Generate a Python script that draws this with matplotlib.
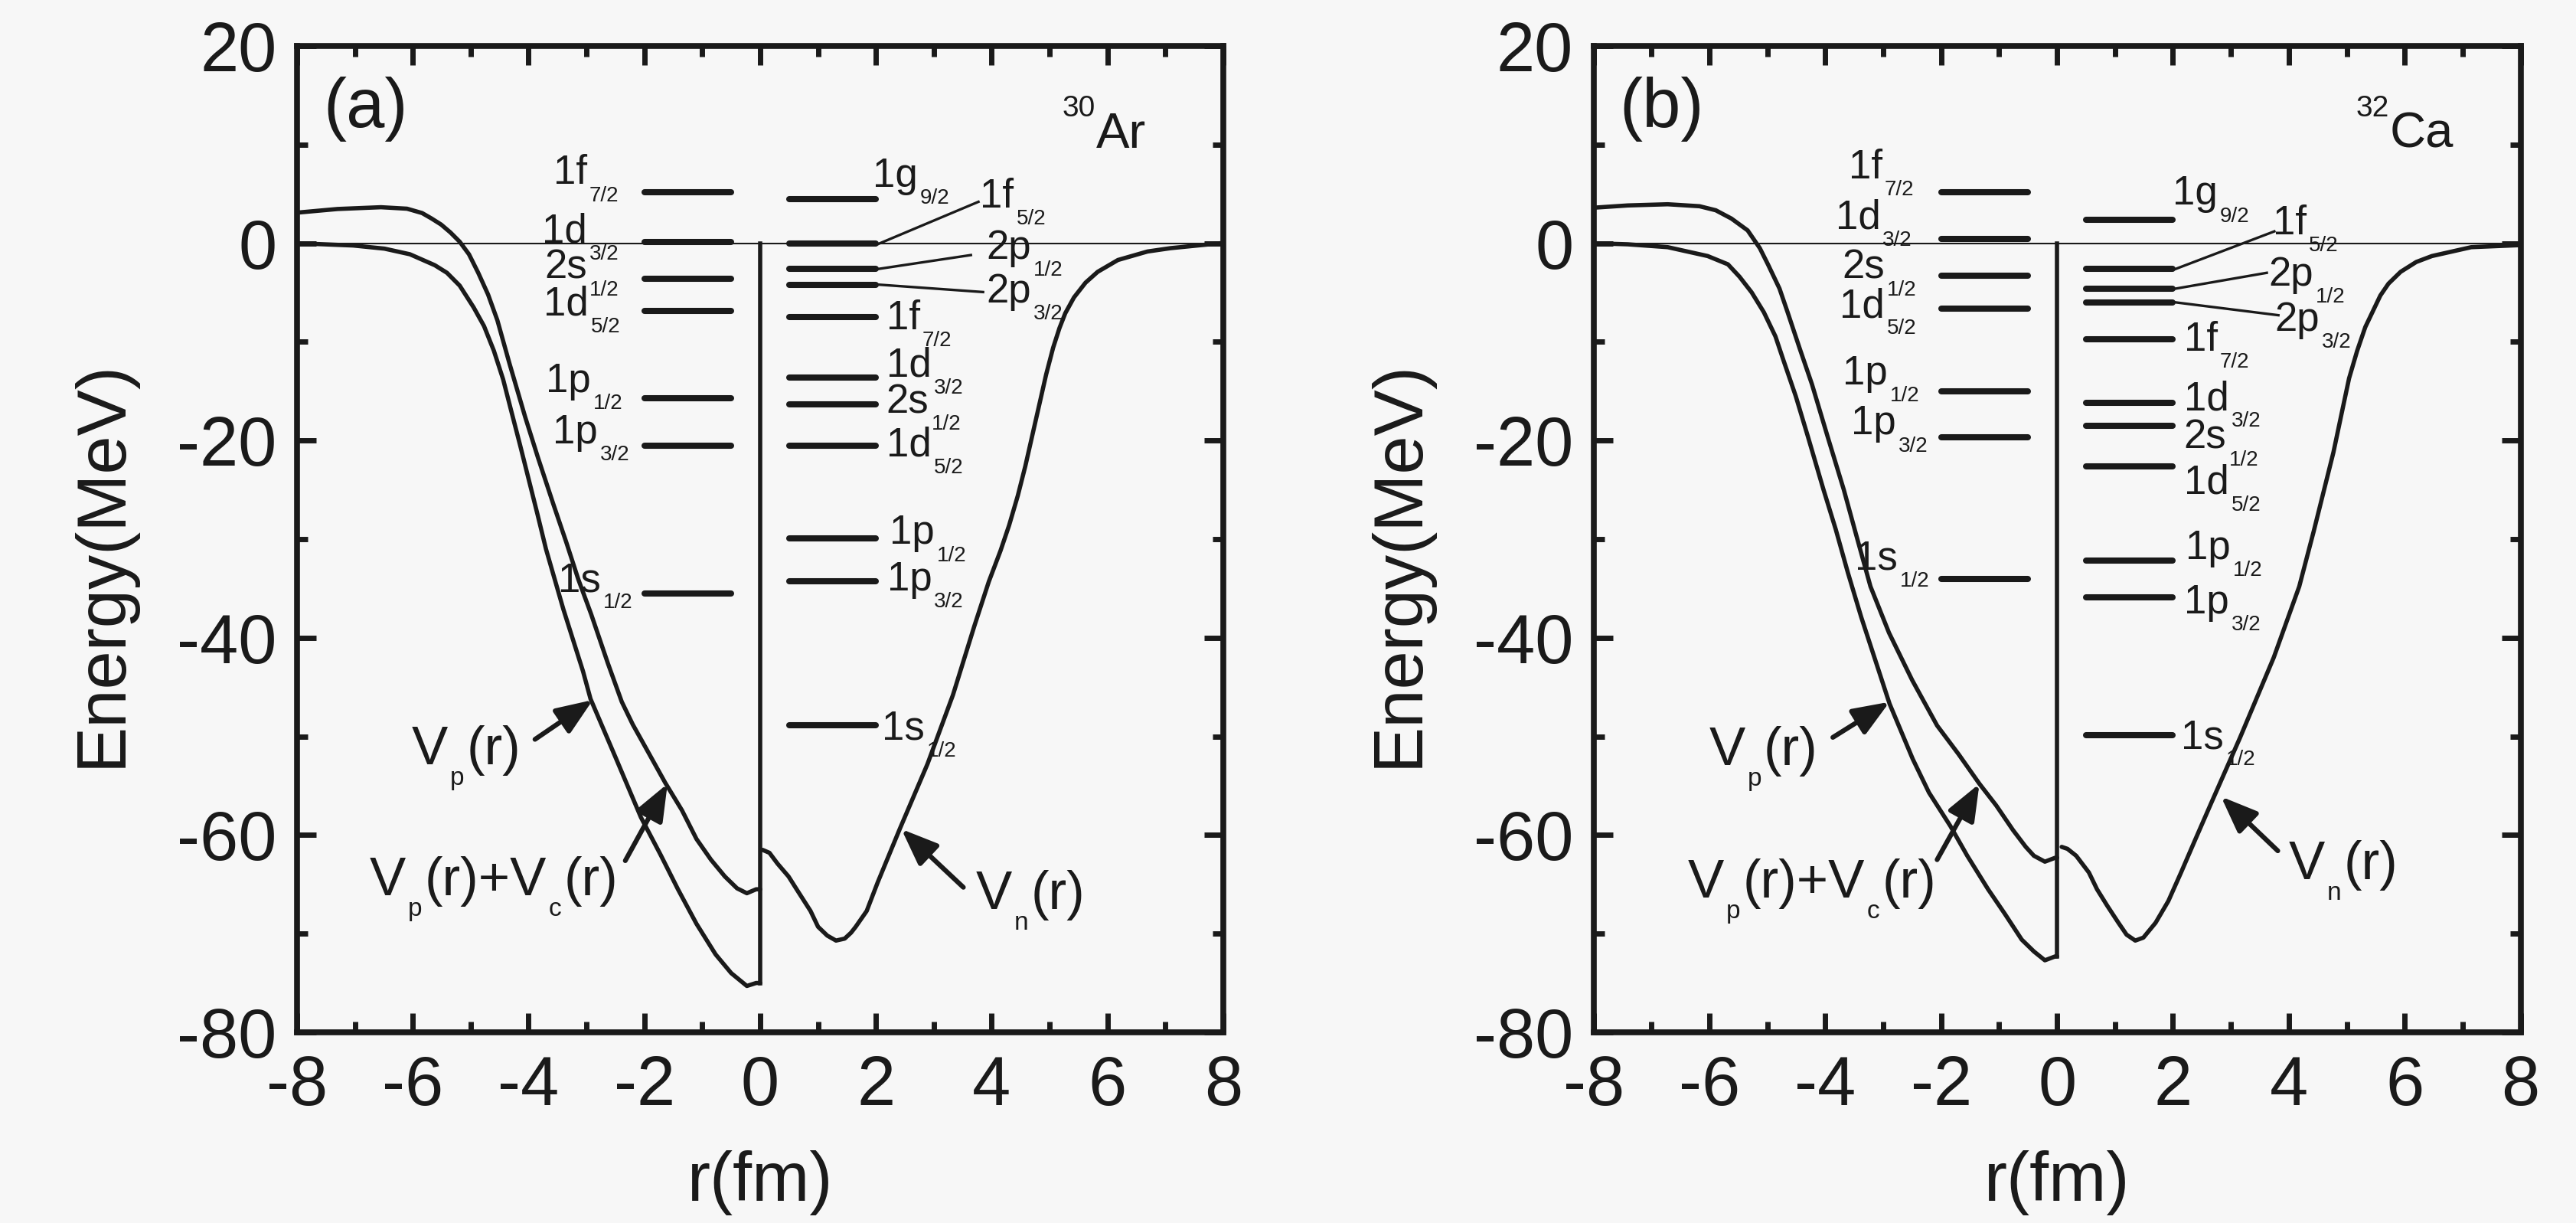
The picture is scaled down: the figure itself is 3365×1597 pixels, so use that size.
import numpy as np
import matplotlib
matplotlib.use("Agg")
import matplotlib.pyplot as plt
from matplotlib.transforms import Affine2D
from matplotlib.ticker import MultipleLocator

plt.rcParams['font.family'] = ['Liberation Sans', 'DejaVu Sans']
plt.rcParams['axes.unicode_minus'] = False

INK = '#1a1a1a'
BG = '#f7f7f7'
DPI = 100

# ---------------- (a) 30Ar ----------------
ar_p_name = ['1f', '1d', '2s', '1d', '1p', '1p', '1s']
ar_p_j = ['7/2', '3/2', '1/2', '5/2', '1/2', '3/2', '1/2']
ar_p_e = [5.2, 0.1, -3.6, -6.9, -15.7, -20.5, -35.5]
ar_n_name = ['1g', '1f', '2p', '2p', '1f', '1d', '2s', '1d', '1p', '1p', '1s']
ar_n_j = ['9/2', '5/2', '1/2', '3/2', '7/2', '3/2', '1/2', '5/2', '1/2', '3/2', '1/2']
ar_n_e = [4.45, -0.05, -2.6, -4.2, -7.5, -13.6, -16.3, -20.5, -29.95, -34.3, -48.9]

# proton potential with coulomb (r < 0 side)
ar_vpc_r = [-8.0, -7.3, -6.55, -6.1, -5.84, -5.68, -5.51, -5.35, -5.19, -5.03, -4.87,
            -4.7, -4.54, -4.33, -4.06, -3.84, -3.57, -3.35, -3.14, -2.92, -2.63, -2.39,
            -2.2, -2.0, -1.64, -1.35, -1.1, -0.85, -0.61, -0.4, -0.23, -0.07, 0.0]
ar_vpc_e = [3.1, 3.47, 3.65, 3.5, 3.06, 2.52, 1.89, 1.09, 0.15, -1.12, -3.0,
            -5.2, -7.8, -12.2, -17.6, -21.7, -26.5, -30.3, -34.1, -37.6, -42.6, -46.5,
            -48.8, -50.9, -54.7, -57.5, -60.4, -62.5, -64.2, -65.4, -65.9, -65.5, -65.5]
# nuclear proton potential
ar_vp_r = [-8.0, -7.03, -6.49, -6.05, -5.62, -5.41, -5.19, -4.95, -4.77, -4.6, -4.44,
           -4.3, -4.15, -4.0, -3.85, -3.7, -3.4, -3.06, -2.93, -2.5, -2.06, -1.72,
           -1.42, -1.1, -0.77, -0.5, -0.23, -0.07, 0.0]
ar_vp_e = [0.0, -0.23, -0.55, -1.12, -2.23, -3.0, -4.3, -6.5, -8.4, -10.9, -13.8,
           -17.0, -20.4, -23.9, -27.4, -31.0, -37.1, -43.4, -46.2, -52.1, -58.2, -62.0,
           -65.5, -69.0, -72.1, -74.0, -75.3, -75.0, -75.0]
# neutron potential (r > 0 side)
ar_vn_r = [0.04, 0.16, 0.3, 0.49, 0.63, 0.87, 1.0, 1.16, 1.31, 1.46, 1.57, 1.65, 1.84,
           2.03, 2.41, 2.89, 3.33, 3.7, 3.95, 4.15, 4.3, 4.45, 4.58, 4.7, 4.82, 4.94,
           5.06, 5.17, 5.27, 5.42, 5.62, 5.83, 6.18, 6.69, 7.09, 7.95]
ar_vn_e = [-61.5, -61.8, -62.9, -64.2, -65.5, -67.7, -69.3, -70.2, -70.7, -70.5, -69.9, -69.3, -67.7,
           -64.8, -59.4, -52.8, -45.8, -38.8, -34.3, -31.2, -28.6, -25.6, -22.6, -19.5, -16.4, -13.3,
           -10.6, -8.6, -7.1, -5.5, -4.0, -2.9, -1.7, -0.84, -0.5, 0.0]

# ---------------- (b) 32Ca ----------------
ca_p_name = ar_p_name
ca_p_j = ar_p_j
ca_p_e = [5.15, 0.4, -3.3, -6.65, -15.0, -19.7, -34.0]
ca_n_name = ar_n_name
ca_n_j = ar_n_j
ca_n_e = [2.4, -2.6, -4.6, -6.0, -9.75, -16.2, -18.5, -22.6, -32.2, -35.9, -49.9]

ca_vpc_r = [-8.0, -7.41, -6.72, -6.17, -5.89, -5.62, -5.34, -5.13, -4.99, -4.79, -4.65,
            -4.44, -4.23, -3.96, -3.68, -3.47, -3.22, -2.9, -2.5, -2.07, -1.7, -1.34,
            -1.05, -0.76, -0.54, -0.4, -0.21, -0.03, 0.0]
ca_vpc_e = [3.6, 3.83, 3.95, 3.75, 3.34, 2.5, 1.3, -0.5, -2.14, -4.6, -7.0,
            -10.7, -14.3, -19.6, -25.0, -29.5, -34.8, -39.5, -44.3, -48.9, -51.8, -54.8,
            -57.0, -59.5, -61.2, -62.1, -62.7, -62.3, -62.3]
ca_vp_r = [-8.0, -7.41, -6.72, -6.03, -5.68, -5.48, -5.27, -5.06, -4.86, -4.72, -4.51,
           -4.3, -4.03, -3.82, -3.61, -3.38, -2.89, -2.49, -2.21, -1.84, -1.55, -1.19,
           -0.9, -0.61, -0.4, -0.21, -0.03, 0.0]
ca_vp_e = [0.0, -0.11, -0.4, -1.3, -2.14, -3.4, -4.99, -7.0, -9.45, -11.9, -15.5,
           -19.6, -25.0, -29.0, -33.4, -37.9, -46.7, -52.3, -55.7, -59.1, -62.1, -65.5,
           -68.0, -70.6, -71.8, -72.7, -72.3, -72.3]
ca_vn_r = [0.08, 0.18, 0.33, 0.55, 0.69, 0.87, 1.06, 1.2, 1.35, 1.49, 1.7, 1.92, 2.14,
           2.39, 2.65, 3.16, 3.74, 4.18, 4.43, 4.6, 4.77, 4.91, 5.04, 5.18, 5.32, 5.45,
           5.58, 5.72, 5.93, 6.2, 6.47, 7.15, 7.96]
ca_vn_e = [-61.2, -61.4, -62.1, -63.8, -65.5, -67.2, -68.9, -70.1, -70.7, -70.4, -68.9, -66.7, -63.8,
           -60.4, -56.9, -50.1, -42.0, -34.8, -29.2, -25.2, -21.2, -17.3, -13.7, -10.9, -8.5, -6.9,
           -5.3, -4.1, -2.9, -1.9, -1.3, -0.4, -0.2]

# ---------------- text placement (layout only) ----------------
ar_p_lab_x = [-2.44, -2.44, -2.44, -2.41, -2.38, -2.25, -2.2]
ar_p_lab_y = [6.0, 0.1, -3.6, -7.3, -15.1, -20.3, -35.3]
ar_n_lab_x = [1.95, 3.8, 3.9, 3.9, 2.18, 2.18, 2.18, 2.18, 2.23, 2.19, 2.1]
ar_n_lab_y = [5.7, 3.6, -1.6, -6.0, -8.7, -13.5, -17.2, -21.6, -30.5, -35.2, -50.3]
ar_leader_end = {1: (3.77, 4.2), 2: (3.64, -1.2), 3: (3.85, -4.95)}
ar_arrows = [((-3.89, -50.3), (-2.89, -46.3)), ((-2.33, -62.6), (-1.6, -54.8)),
             ((3.51, -65.3), (2.44, -59.4))]
ar_vlab = [(-6.02, -52.8), (-6.75, -66.1), (3.72, -67.5)]

ca_p_lab_x = [-2.47, -2.5, -2.43, -2.43, -2.37, -2.23, -2.2]
ca_p_lab_y = [6.6, 1.5, -3.6, -7.5, -14.3, -19.4, -33.1]
ca_n_lab_x = [1.99, 3.72, 3.65, 3.75, 2.19, 2.19, 2.19, 2.19, 2.22, 2.19, 2.14]
ca_n_lab_y = [3.9, 0.9, -4.3, -8.9, -10.9, -16.9, -20.8, -25.4, -32.0, -37.5, -51.2]
ca_leader_end = {1: (3.75, 1.2), 2: (3.62, -3.0), 3: (3.82, -7.3)}
ca_arrows = [((-3.87, -50.1), (-2.89, -46.5)), ((-2.07, -62.5), (-1.34, -54.8)),
             ((3.81, -61.6), (2.83, -56.1))]
ca_vlab = [(-6.01, -52.9), (-6.37, -66.3), (4.0, -64.5)]

fig = plt.figure(figsize=(33.66, 15.97), dpi=DPI, facecolor=BG)
ax_a = fig.add_axes([388 / 3366, 249 / 1597, 1210 / 3366, 1288 / 1597])
ax_b = fig.add_axes([2081.6 / 3366, 249 / 1597, 1211 / 3366, 1288 / 1597])
renderer = fig.canvas.get_renderer()


def rich(ax, x, y, parts, ha='left', gap=3.0):
    # parts: (text, fontsize, baseline shift in points) drawn side by side
    widths = []
    for s, fs, dy in parts:
        t = ax.text(0, 0, s, fontsize=fs)
        widths.append(t.get_window_extent(renderer).width)
        t.remove()
    total = sum(widths) + gap * (len(parts) - 1)
    off = -total if ha == 'right' else 0.0
    for (s, fs, dy), w in zip(parts, widths):
        tr = ax.transData + Affine2D().translate(off, dy * DPI / 72.0)
        ax.text(x, y, s, fontsize=fs, color=INK, transform=tr, ha='left', va='baseline')
        off += w + gap


def level_label(ax, x, y, name, j, ha):
    rich(ax, x, y, [(name, 38, 0), (j, 20, -16)], ha=ha)


def panel(ax, tag, iso_mass, iso_sym, iso_x,
          p_name, p_j, p_e, n_name, n_j, n_e,
          vpc_r, vpc_e, vp_r, vp_e, vn_r, vn_e,
          p_lx, p_ly, n_lx, n_ly, leaders, arrows, vlab):
    ax.set_facecolor(BG)
    ax.axhline(0, color=INK, lw=1.5, zorder=1)
    for rr, ee in ((vpc_r, vpc_e), (vp_r, vp_e), (vn_r, vn_e)):
        ax.plot(rr, ee, color=INK, lw=4, solid_joinstyle='round', solid_capstyle='round')
    ax.plot([0, 0], [0, vp_e[-1]], color=INK, lw=4)

    ax.hlines(p_e, -2.0, -0.5, colors=INK, lw=5.8, capstyle='round')
    ax.hlines(n_e, 0.5, 2.0, colors=INK, lw=5.8, capstyle='round')

    for i in range(len(p_e)):
        level_label(ax, p_lx[i], p_ly[i], p_name[i], p_j[i], 'right')
    for i in range(len(n_e)):
        level_label(ax, n_lx[i], n_ly[i], n_name[i], n_j[i], 'left')
    for i, (xe, ye) in leaders.items():
        ax.plot([2.05, xe], [n_e[i], ye], color=INK, lw=2.4)

    for tail, head in arrows:
        ax.annotate('', xy=head, xytext=tail,
                    arrowprops=dict(arrowstyle='-|>,head_length=2.9,head_width=1.15',
                                    mutation_scale=10, lw=4.5, color=INK,
                                    shrinkA=0, shrinkB=0))
    rich(ax, vlab[0][0], vlab[0][1], [('V', 51, 0), ('p', 24, -19.5), ('(r)', 51, 0)])
    rich(ax, vlab[1][0], vlab[1][1], [('V', 51, 0), ('p', 24, -19.5), ('(r)+V', 51, 0),
                                      ('c', 24, -19.5), ('(r)', 51, 0)])
    rich(ax, vlab[2][0], vlab[2][1], [('V', 51, 0), ('n', 24, -19.5), ('(r)', 51, 0)])

    ax.text(-7.55, 11.8, tag, fontsize=65, color=INK, va='baseline')
    rich(ax, iso_x, 9.7, [(iso_mass, 28, 29), (iso_sym, 47, 0)], ha='right', gap=1)

    ax.set_xlim(-8, 8)
    ax.set_ylim(-80, 20)
    ax.xaxis.set_major_locator(MultipleLocator(2))
    ax.xaxis.set_minor_locator(MultipleLocator(1))
    ax.yaxis.set_major_locator(MultipleLocator(20))
    ax.yaxis.set_minor_locator(MultipleLocator(10))
    ax.tick_params(which='both', direction='in', top=True, right=True,
                   width=5, color=INK, labelcolor=INK, labelsize=65)
    ax.tick_params(which='major', length=18)
    ax.tick_params(which='minor', length=10)
    ax.tick_params(axis='x', which='both', pad=21)
    ax.tick_params(axis='y', which='both', pad=19)
    for sp in ax.spines.values():
        sp.set_linewidth(5.5)
        sp.set_color(INK)

    ax.set_xlabel('r(fm)', fontsize=65, color=INK)
    ax.xaxis.set_label_coords(0.5, -0.1708)
    ax.xaxis.label.set_va('baseline')
    ax.set_ylabel('Energy(MeV)', fontsize=65, color=INK)
    ax.yaxis.set_label_coords(-0.1744, 0.475)


panel(ax_a, '(a)', '30', 'Ar', 6.67,
      ar_p_name, ar_p_j, ar_p_e, ar_n_name, ar_n_j, ar_n_e,
      ar_vpc_r, ar_vpc_e, ar_vp_r, ar_vp_e, ar_vn_r, ar_vn_e,
      ar_p_lab_x, ar_p_lab_y, ar_n_lab_x, ar_n_lab_y, ar_leader_end, ar_arrows, ar_vlab)
panel(ax_b, '(b)', '32', 'Ca', 6.84,
      ca_p_name, ca_p_j, ca_p_e, ca_n_name, ca_n_j, ca_n_e,
      ca_vpc_r, ca_vpc_e, ca_vp_r, ca_vp_e, ca_vn_r, ca_vn_e,
      ca_p_lab_x, ca_p_lab_y, ca_n_lab_x, ca_n_lab_y, ca_leader_end, ca_arrows, ca_vlab)

fig.savefig('out.png', dpi=DPI, facecolor=BG)
